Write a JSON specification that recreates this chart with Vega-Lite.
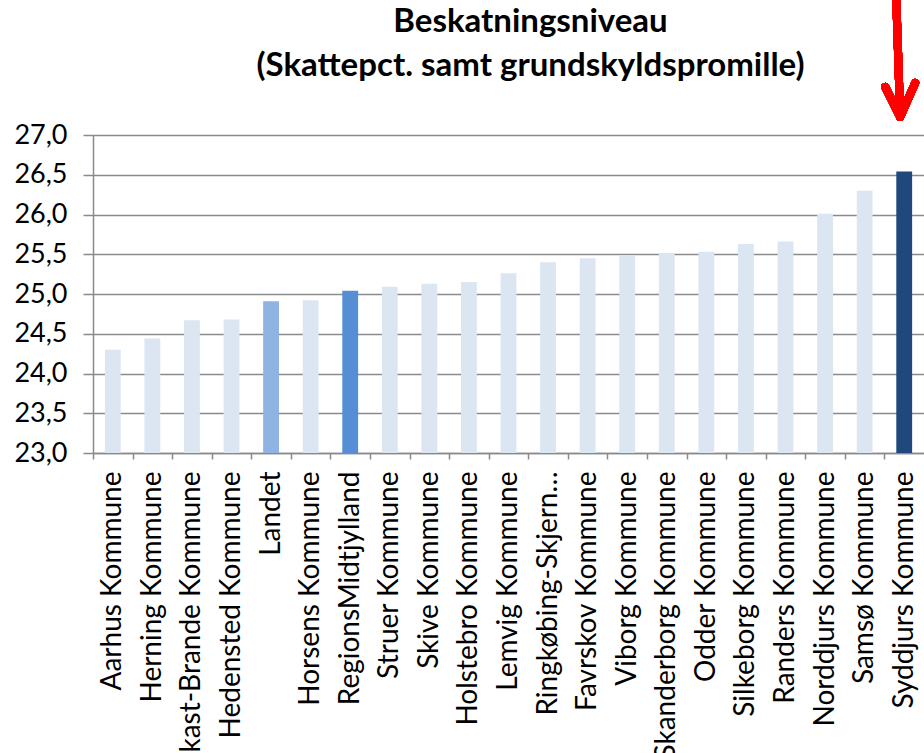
{
  "$schema": "https://vega.github.io/schema/vega-lite/v6.json",
  "width": 831,
  "height": 318,
  "autosize": {"type": "none"},
  "padding": {"left": 93, "top": 135, "right": 0, "bottom": 300},
  "background": "white",
  "title": {
    "text": ["Beskatningsniveau", "(Skattepct. samt grundskyldspromille)"],
    "font": "Lato",
    "fontSize": 33,
    "fontWeight": "bold",
    "color": "#000000",
    "anchor": "middle",
    "frame": "group",
    "baseline": "bottom",
    "lineHeight": 44,
    "offset": 0,
    "dy": 122,
    "dx": 22
  },
  "data": {
    "values": [
      {"kommune": "Aarhus Kommune", "niveau": 24.30, "type": "kommune"},
      {"kommune": "Herning Kommune", "niveau": 24.44, "type": "kommune"},
      {"kommune": "Ikast-Brande Kommune", "niveau": 24.67, "type": "kommune"},
      {"kommune": "Hedensted Kommune", "niveau": 24.68, "type": "kommune"},
      {"kommune": "Landet", "niveau": 24.91, "type": "land"},
      {"kommune": "Horsens Kommune", "niveau": 24.92, "type": "kommune"},
      {"kommune": "RegionsMidtjylland", "niveau": 25.04, "type": "region"},
      {"kommune": "Struer Kommune", "niveau": 25.09, "type": "kommune"},
      {"kommune": "Skive Kommune", "niveau": 25.13, "type": "kommune"},
      {"kommune": "Holstebro Kommune", "niveau": 25.15, "type": "kommune"},
      {"kommune": "Lemvig Kommune", "niveau": 25.26, "type": "kommune"},
      {"kommune": "Ringkøbing-Skjern Kommune", "niveau": 25.40, "type": "kommune"},
      {"kommune": "Favrskov Kommune", "niveau": 25.45, "type": "kommune"},
      {"kommune": "Viborg Kommune", "niveau": 25.49, "type": "kommune"},
      {"kommune": "Skanderborg Kommune", "niveau": 25.51, "type": "kommune"},
      {"kommune": "Odder Kommune", "niveau": 25.53, "type": "kommune"},
      {"kommune": "Silkeborg Kommune", "niveau": 25.63, "type": "kommune"},
      {"kommune": "Randers Kommune", "niveau": 25.66, "type": "kommune"},
      {"kommune": "Norddjurs Kommune", "niveau": 26.01, "type": "kommune"},
      {"kommune": "Samsø Kommune", "niveau": 26.30, "type": "kommune"},
      {"kommune": "Syddjurs Kommune", "niveau": 26.54, "type": "fokus"}
    ]
  },
  "layer": [
    {
      "mark": {"type": "bar"},
      "encoding": {
        "x": {
          "field": "kommune",
          "type": "nominal",
          "sort": null,
          "scale": {"paddingInner": 0.6, "paddingOuter": 0.3},
          "axis": {
            "title": null,
            "labelAngle": 270,
            "labelAlign": "right",
            "labelBaseline": "middle",
            "labelFont": "Lato",
            "labelFontSize": 28,
            "labelColor": "#000000",
            "labelPadding": 12,
            "labelLimit": 400,
            "labelOverlap": false,
            "labelExpr": "datum.label == 'Ringkøbing-Skjern Kommune' ? 'Ringkøbing-Skjern…' : datum.label",
            "tickSize": 6,
            "tickColor": "#8a8a8a",
            "tickWidth": 1.5,
            "tickOffset": -19.8,
            "labelOffset": 19.8,
            "domainColor": "#8a8a8a",
            "domainWidth": 1.5,
            "grid": false
          }
        },
        "y": {
          "field": "niveau",
          "type": "quantitative",
          "scale": {"domain": [23, 27], "zero": false, "nice": false},
          "axis": {
            "title": null,
            "tickCount": 8,
            "labelExpr": "replace(format(datum.value, '.1f'), '.', ',')",
            "labelFont": "Lato",
            "labelFontSize": 27,
            "labelColor": "#000000",
            "labelPadding": 16,
            "labelOverlap": false,
            "tickSize": 10,
            "tickColor": "#8a8a8a",
            "tickWidth": 1.5,
            "domainColor": "#8a8a8a",
            "domainWidth": 1.5,
            "grid": true,
            "gridColor": "#8a8a8a",
            "gridWidth": 1.5
          }
        },
        "y2": {"datum": 23},
        "color": {
          "field": "type",
          "type": "nominal",
          "scale": {
            "domain": ["kommune", "land", "region", "fokus"],
            "range": ["#DCE6F2", "#8EB4E3", "#558ED5", "#1F497D"]
          },
          "legend": null
        }
      }
    },
    {
      "mark": {
        "type": "point",
        "shape": "M-0.133,-1L-0.067,0.983M-0.317,0.483L-0.067,0.983L0.183,0.417",
        "filled": false,
        "stroke": "#FF0000",
        "strokeWidth": 8,
        "strokeCap": "round",
        "strokeJoin": "round",
        "opacity": 1,
        "size": 14400
      },
      "encoding": {
        "x": {"datum": "Syddjurs Kommune"},
        "y": {"datum": 27.97}
      }
    }
  ]
}
